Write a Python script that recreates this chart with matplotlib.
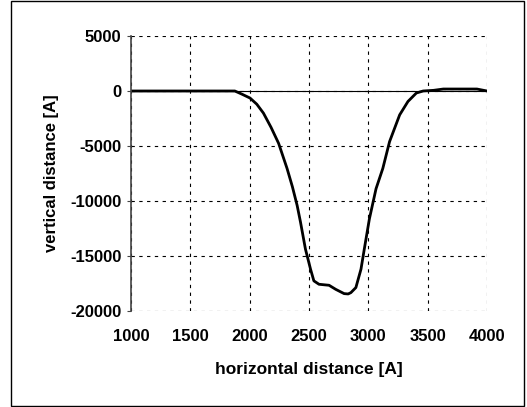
import matplotlib.pyplot as plt
from matplotlib.patches import Rectangle

# profile
horiz = [1000, 1200, 1400, 1600, 1800, 1875, 1932, 2003, 2060, 2116, 2180, 2244,
         2315, 2360, 2400, 2428, 2470, 2513, 2541, 2584, 2630, 2669, 2725, 2796,
         2830, 2853, 2895, 2938, 2966, 3009, 3065, 3122, 3179, 3264, 3334, 3405,
         3462, 3550, 3632, 3800, 3915, 4000]
vert = [0, 0, 0, 0, 0, 0, -274, -640, -1200, -2010, -3300, -4760,
        -7040, -8700, -10400, -11900, -14370, -16200, -17260, -17570, -17620, -17660, -18030, -18420,
        -18450, -18330, -17870, -16200, -14370, -11620, -8880, -7040, -4600, -2170, -950, -180,
        0, 60, 180, 180, 180, 0]

x_ticks = [1000, 1500, 2000, 2500, 3000, 3500, 4000]
y_ticks = [5000, 0, -5000, -10000, -15000, -20000]

plt.rcParams['font.family'] = ['Liberation Sans', 'DejaVu Sans']
plt.rcParams['font.weight'] = 'bold'
plt.rcParams['axes.unicode_minus'] = False

fig = plt.figure(figsize=(5.27, 4.07), dpi=100)
ax = fig.add_axes([131 / 527, 1 - 311 / 407, (487 - 131) / 527, (311 - 36) / 407])

ax.plot(horiz, vert, color='black', lw=2.0)
ax.axhline(0, color='black', lw=0.8)

ax.set_xlim(1000, 4000)
ax.set_ylim(-20000, 5000)
ax.set_xticks(x_ticks)
ax.set_yticks(y_ticks)
ax.tick_params(labelsize=12, length=3, color='#444444')
ax.tick_params(axis='x', length=0, pad=13)
ax.tick_params(axis='y', pad=4)
for lbl in ax.get_xticklabels() + ax.get_yticklabels():
    lbl.set_fontweight('bold')

ax.grid(True, color='black', linestyle=(0, (3, 4)), lw=0.8)
for s in ['top', 'right', 'bottom']:
    ax.spines[s].set_visible(False)
ax.spines['left'].set_color('#444444')
ax.spines['left'].set_linewidth(1.2)

ax.set_xlabel('horizontal distance [A]', fontsize=12.5, fontweight='bold', labelpad=13)
ax.set_ylabel('vertical distance [A]', fontsize=12, fontweight='bold', labelpad=8)

# outer frame around the chart
fig.patches.append(Rectangle((11 / 527, 0.002), (524 - 11) / 527, 0.995, transform=fig.transFigure,
                             fill=False, edgecolor='black', lw=1))

fig.savefig('out.png', dpi=100)
